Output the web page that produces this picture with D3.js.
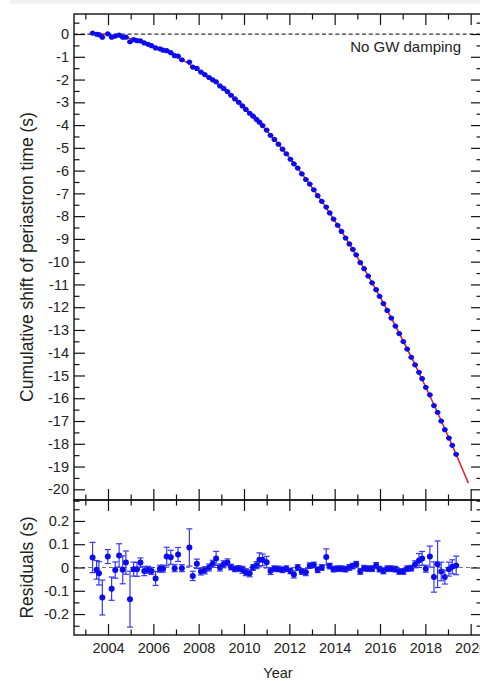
<!DOCTYPE html>
<html><head><meta charset="utf-8">
<script src="https://cdn.jsdelivr.net/npm/d3@7"></script>
<style>
html,body{margin:0;padding:0;background:#fff;}
svg{display:block;}
text{font-family:"Liberation Sans",Arial,Helvetica,sans-serif;fill:#222;}
</style></head>
<body><svg id="chart" width="480" height="681"></svg>
<script>
const years = [2003.32, 2003.5, 2003.6, 2003.75, 2003.99, 2004.16, 2004.32, 2004.49, 2004.65, 2004.79,
 2004.97, 2005.13, 2005.28, 2005.43, 2005.6, 2005.77, 2005.92, 2006.1, 2006.29, 2006.43,
 2006.59, 2006.77, 2006.94, 2007.09, 2007.26, 2007.59, 2007.74, 2007.92, 2008.1, 2008.27,
 2008.46, 2008.62, 2008.77, 2008.94, 2009.1, 2009.27, 2009.43, 2009.6, 2009.77, 2009.93,
 2010.08, 2010.25, 2010.4, 2010.55, 2010.68, 2010.82, 2011.0, 2011.17, 2011.34, 2011.52,
 2011.7, 2011.87, 2012.05, 2012.2, 2012.37, 2012.55, 2012.73, 2012.9, 2013.08, 2013.25,
 2013.43, 2013.63, 2013.78, 2013.95, 2014.13, 2014.3, 2014.48, 2014.65, 2014.8, 2014.95,
 2015.13, 2015.3, 2015.48, 2015.65, 2015.83, 2015.98, 2016.15, 2016.32, 2016.5, 2016.68,
 2016.85, 2017.03, 2017.2, 2017.38, 2017.55, 2017.72, 2017.86, 2018.02, 2018.2, 2018.38,
 2018.54, 2018.7, 2018.86, 2019.04, 2019.19, 2019.36];

const shifts = [0.04, -0.01, -0.03, -0.14, 0.01, -0.14, -0.09, -0.05, -0.14, -0.14,
 -0.34, -0.25, -0.29, -0.30, -0.39, -0.45, -0.51, -0.61, -0.65, -0.71,
 -0.73, -0.82, -0.95, -0.97, -1.13, -1.23, -1.45, -1.51, -1.67, -1.78,
 -1.91, -2.01, -2.10, -2.28, -2.39, -2.53, -2.69, -2.85, -3.00, -3.16,
 -3.31, -3.48, -3.61, -3.75, -3.87, -4.02, -4.22, -4.45, -4.63, -4.84,
 -5.06, -5.26, -5.50, -5.70, -5.89, -6.14, -6.39, -6.59, -6.84, -7.10,
 -7.35, -7.60, -7.86, -8.13, -8.40, -8.67, -8.96, -9.22, -9.46, -9.70,
 -10.04, -10.31, -10.63, -10.93, -11.23, -11.52, -11.84, -12.14, -12.48, -12.83,
 -13.16, -13.51, -13.84, -14.20, -14.53, -14.86, -15.14, -15.52, -15.85, -16.32,
 -16.62, -17.00, -17.38, -17.75, -18.07, -18.46];

const residuals = [0.043, -0.010, -0.025, -0.129, 0.047, -0.091, -0.011, 0.052, -0.010, 0.021,
 -0.136, -0.007, -0.008, 0.021, -0.015, -0.010, -0.015, -0.047, -0.005, -0.005,
 0.047, 0.044, -0.003, 0.056, -0.003, 0.086, -0.036, 0.016, -0.017, -0.012,
 0.000, 0.016, 0.039, 0.000, 0.014, 0.022, 0.002, -0.006, -0.004, -0.010,
 -0.020, -0.025, 0.000, 0.010, 0.033, 0.033, 0.023, -0.015, -0.005, -0.006,
 -0.010, -0.005, -0.015, -0.030, 0.000, -0.017, -0.020, 0.008, 0.011, -0.010,
 0.000, 0.045, 0.006, -0.007, -0.005, -0.005, -0.007, 0.000, 0.006, 0.014,
 -0.017, -0.003, -0.005, -0.005, 0.009, -0.007, -0.015, -0.005, -0.005, -0.007,
 -0.017, -0.017, -0.005, -0.003, 0.014, 0.030, 0.039, -0.005, 0.047, -0.041,
 0.014, -0.017, -0.041, -0.007, 0.003, 0.009];

const resErrors = [0.065, 0.04, 0.05, 0.075, 0.03, 0.05, 0.035, 0.05, 0.06, 0.05,
 0.12, 0.03, 0.03, 0.02, 0.02, 0.015, 0.015, 0.03, 0.015, 0.015,
 0.04, 0.03, 0.015, 0.03, 0.015, 0.08, 0.02, 0.02, 0.015, 0.015,
 0.015, 0.015, 0.03, 0.015, 0.015, 0.015, 0.012, 0.012, 0.012, 0.015,
 0.015, 0.015, 0.012, 0.015, 0.03, 0.025, 0.025, 0.015, 0.012, 0.012,
 0.012, 0.012, 0.012, 0.015, 0.012, 0.012, 0.015, 0.012, 0.012, 0.012,
 0.012, 0.035, 0.012, 0.012, 0.012, 0.012, 0.012, 0.012, 0.012, 0.012,
 0.012, 0.012, 0.012, 0.012, 0.012, 0.012, 0.012, 0.012, 0.012, 0.012,
 0.012, 0.012, 0.012, 0.012, 0.015, 0.03, 0.03, 0.015, 0.045, 0.065,
 0.1, 0.04, 0.03, 0.03, 0.03, 0.04];

// GR prediction curve
const fitYears = [2003.3, 2004, 2005, 2006, 2007, 2008, 2009, 2010, 2011, 2012, 2013, 2014, 2015, 2016, 2017, 2018, 2019, 2019.9];
const fitShift = [0, -0.035, -0.207, -0.522, -0.980, -1.582, -2.326, -3.214, -4.245, -5.419, -6.737, -8.197, -9.801, -11.548, -13.439, -15.472, -17.649, -19.730];

const yearTicks = [2004, 2006, 2008, 2010, 2012, 2014, 2016, 2018, 2020];
const shiftTicks = [0, -1, -2, -3, -4, -5, -6, -7, -8, -9, -10, -11, -12, -13, -14, -15, -16, -17, -18, -19, -20];
const resTicks = [0.2, 0.1, 0, -0.1, -0.2];

const labels = {
  yTop: "Cumulative shift of periastron time (s)",
  yBottom: "Residuals (s)",
  x: "Year",
  note: "No GW damping"
};

const svg = d3.select("#chart");
const L = 74, R = 482, T1 = 14, B1 = 500, T2 = 500, B2 = 635;
const blue = "#0b0bee";

svg.append("rect").attr("x", 10).attr("y", 0).attr("width", 470).attr("height", 4).attr("fill", "#f1f1f1");

const x = d3.scaleLinear().domain([2002.5, 2020.5]).range([L, R]);
const y1 = d3.scaleLinear().domain([0.88, -20.47]).range([T1, B1]);
const y2 = d3.scaleLinear().domain([0.29, -0.29]).range([T2, B2]);

const major = 11, minor = 5.5;
const yearMinor = d3.range(2003, 2021, 1).filter(v => !yearTicks.includes(v));
const shiftMinor = d3.range(0.5, -20.6, -1);
const resMinor = [0.25, 0.15, 0.05, -0.05, -0.15, -0.25];

function axes(g, yScale, top, bottom, majY, minY, labelY) {
  const fmtNone = () => "";
  g.append("g").attr("transform", `translate(0,${bottom})`)
    .call(d3.axisBottom(x).tickValues(yearTicks).tickSize(-major).tickFormat(labelY ? d3.format("d") : fmtNone).tickPadding(labelY ? 8 : 3));
  g.append("g").attr("transform", `translate(0,${bottom})`)
    .call(d3.axisBottom(x).tickValues(yearMinor).tickSize(-minor).tickFormat(fmtNone));
  g.append("g").attr("transform", `translate(0,${top})`)
    .call(d3.axisTop(x).tickValues(yearTicks).tickSize(-major).tickFormat(fmtNone));
  g.append("g").attr("transform", `translate(0,${top})`)
    .call(d3.axisTop(x).tickValues(yearMinor).tickSize(-minor).tickFormat(fmtNone));
  g.append("g").attr("transform", `translate(${L},0)`)
    .call(d3.axisLeft(yScale).tickValues(majY).tickSize(-major).tickPadding(5).tickFormat(d => String(d)));
  g.append("g").attr("transform", `translate(${L},0)`)
    .call(d3.axisLeft(yScale).tickValues(minY).tickSize(-minor).tickFormat(fmtNone));
  g.append("g").attr("transform", `translate(${R},0)`)
    .call(d3.axisRight(yScale).tickValues(majY).tickSize(-major).tickFormat(fmtNone));
  g.append("g").attr("transform", `translate(${R},0)`)
    .call(d3.axisRight(yScale).tickValues(minY).tickSize(-minor).tickFormat(fmtNone));
  g.selectAll(".domain").remove();
  g.selectAll(".tick line").attr("stroke", "#111").attr("stroke-width", 1.2);
  g.selectAll(".tick text").attr("font-size", 14.5).attr("fill", "#222")
    .style("font-family", '"Liberation Sans", Arial, sans-serif');
}

// ---- top panel ----
const gTop = svg.append("g");
gTop.append("line").attr("x1", L).attr("x2", R).attr("y1", y1(0)).attr("y2", y1(0))
  .attr("stroke", "#333").attr("stroke-width", 1.2).attr("stroke-dasharray", "4,2.7");

const line = d3.line().x(d => x(d[0])).y(d => y1(d[1])).curve(d3.curveMonotoneX);
gTop.append("path").datum(d3.zip(fitYears, fitShift)).attr("d", line)
  .attr("fill", "none").attr("stroke", "#e8202a").attr("stroke-width", 1.6);

const topPts = d3.zip(years, shifts, resErrors);
const tp = gTop.append("g").selectAll("g").data(topPts).join("g");
tp.append("line").attr("x1", d => x(d[0]) - 2.8).attr("x2", d => x(d[0]) + 2.8)
  .attr("y1", d => y1(d[1])).attr("y2", d => y1(d[1])).attr("stroke", blue).attr("stroke-width", 1.8);
tp.append("circle").attr("cx", d => x(d[0])).attr("cy", d => y1(d[1])).attr("r", 2.6).attr("fill", blue);

gTop.append("text").attr("x", 461).attr("y", 52).attr("text-anchor", "end")
  .attr("font-size", 15).text(labels.note);

axes(gTop, y1, T1, B1, shiftTicks, shiftMinor, false);
gTop.append("rect").attr("x", L).attr("y", T1).attr("width", R - L).attr("height", B1 - T1)
  .attr("fill", "none").attr("stroke", "#111").attr("stroke-width", 1.4);

// ---- residual panel ----
const gBot = svg.append("g");
gBot.append("line").attr("x1", L).attr("x2", R).attr("y1", y2(0)).attr("y2", y2(0))
  .attr("stroke", "#777").attr("stroke-width", 1).attr("stroke-dasharray", "4,3");

const resPts = d3.zip(years, residuals, resErrors);
const rp = gBot.append("g").selectAll("g").data(resPts).join("g");
const eb = "#3838f2";
rp.append("line").attr("x1", d => x(d[0])).attr("x2", d => x(d[0]))
  .attr("y1", d => y2(d[1] + d[2])).attr("y2", d => y2(d[1] - d[2]))
  .attr("stroke", eb).attr("stroke-width", 1.2);
rp.append("line").attr("x1", d => x(d[0]) - 3).attr("x2", d => x(d[0]) + 3)
  .attr("y1", d => y2(d[1] + d[2])).attr("y2", d => y2(d[1] + d[2]))
  .attr("stroke", eb).attr("stroke-width", 1.2);
rp.append("line").attr("x1", d => x(d[0]) - 3).attr("x2", d => x(d[0]) + 3)
  .attr("y1", d => y2(d[1] - d[2])).attr("y2", d => y2(d[1] - d[2]))
  .attr("stroke", eb).attr("stroke-width", 1.2);
rp.append("circle").attr("cx", d => x(d[0])).attr("cy", d => y2(d[1])).attr("r", 3).attr("fill", blue);

axes(gBot, y2, T2, B2, resTicks, resMinor, true);
gBot.append("rect").attr("x", L).attr("y", T2).attr("width", R - L).attr("height", B2 - T2)
  .attr("fill", "none").attr("stroke", "#111").attr("stroke-width", 1.4);

// ---- axis titles ----
svg.append("text").attr("transform", `translate(28,${(T1 + B1) / 2}) rotate(-90)`)
  .attr("text-anchor", "middle").attr("dominant-baseline", "middle").attr("font-size", 17.5).text(labels.yTop);
svg.append("text").attr("transform", `translate(28,${(T2 + B2) / 2}) rotate(-90)`)
  .attr("text-anchor", "middle").attr("dominant-baseline", "middle").attr("font-size", 17.5).text(labels.yBottom);
svg.append("text").attr("x", (L + R) / 2).attr("y", 678).attr("text-anchor", "middle")
  .attr("font-size", 14.5).text(labels.x);
</script>
</body></html>
